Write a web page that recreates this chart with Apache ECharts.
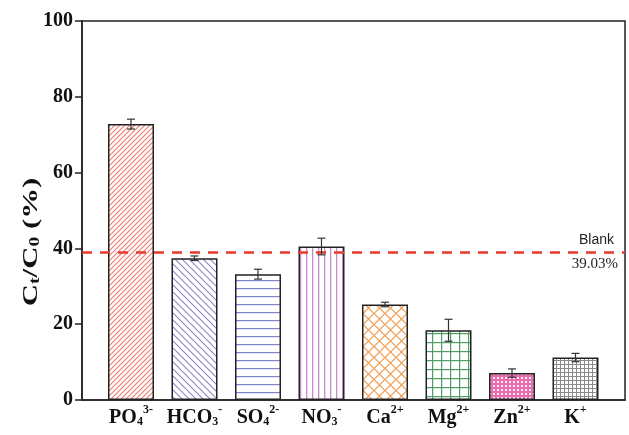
<!DOCTYPE html>
<html>
<head>
<meta charset="utf-8">
<script src="https://cdn.jsdelivr.net/npm/echarts@6/dist/echarts.min.js"></script>
<style>
  html, body { margin: 0; padding: 0; background: #fff; }
  #chart { width: 629px; height: 435px; }
</style>
</head>
<body>
<div id="chart"></div>
<script>
// Ion species tested, with the rich-text label for each one
const categories = ['PO4', 'HCO3', 'SO4', 'NO3', 'Ca', 'Mg', 'Zn', 'K'];
const categoryLabels = [
  '{b|PO}{sub|4}{sup|3-}',
  '{b|HCO}{sub|3}{sup|-}',
  '{b|SO}{sub|4}{sup|2-}',
  '{b|NO}{sub|3}{sup|-}',
  '{b|Ca}{sup|2+}',
  '{b|Mg}{sup|2+}',
  '{b|Zn}{sup|2+}',
  '{b|K}{sup|+}'
];
// Ct/C0 (%) per ion and its error
const ratioValues = [72.8, 37.4, 33.2, 40.5, 25.2, 18.4, 7.1, 11.2];
const ratioErrors = [1.3, 0.6, 1.3, 2.2, 0.6, 2.9, 1.1, 1.1];
// Blank reference level
const blankValue = 39.03;
// Y-axis ticks
const yTicks = [0, 20, 40, 60, 80, 100];

// ---- hatch fills ----
function tile(size, draw) {
  const c = document.createElement('canvas');
  c.width = size; c.height = size;
  const g = c.getContext('2d');
  g.fillStyle = '#fff';
  g.fillRect(0, 0, size, size);
  draw(g, size);
  return { image: c, repeat: 'repeat' };
}
function diag(color, size, forward, lw) {
  return tile(size, (g, s) => {
    g.strokeStyle = color; g.lineWidth = lw;
    g.beginPath();
    if (forward) {
      g.moveTo(-1, s + 1); g.lineTo(s + 1, -1);
      g.moveTo(-1, 1); g.lineTo(1, -1);
      g.moveTo(s - 1, s + 1); g.lineTo(s + 1, s - 1);
    } else {
      g.moveTo(-1, -1); g.lineTo(s + 1, s + 1);
      g.moveTo(s - 1, -1); g.lineTo(s + 1, 1);
      g.moveTo(-1, s - 1); g.lineTo(1, s + 1);
    }
    g.stroke();
  });
}
const fills = [
  diag('#ee7a6e', 5, true, 1.1),
  diag('#8f86c9', 7, false, 1.1),
  tile(8, (g, s) => { g.fillStyle = '#7d84cc'; g.fillRect(0, 0, s, 1.2); }),
  tile(6, (g, s) => { g.fillStyle = '#c98bd0'; g.fillRect(0, 0, 1.3, s); }),
  tile(11, (g, s) => {
    g.strokeStyle = '#f2a057'; g.lineWidth = 1.2;
    g.beginPath();
    g.moveTo(0, s / 2); g.lineTo(s / 2, 0); g.lineTo(s, s / 2); g.lineTo(s / 2, s); g.closePath();
    g.stroke();
  }),
  tile(9, (g, s) => { g.fillStyle = '#4f9d60'; g.fillRect(0, 0, s, 1.2); g.fillRect(0, 0, 1.2, s); }),
  tile(4, (g, s) => {
    g.fillStyle = '#ea6cae'; g.fillRect(0, 0, s, s);
    g.fillStyle = '#fdf0f6'; g.fillRect(1, 1, 2, 2);
  }),
  tile(4, (g, s) => { g.fillStyle = '#8a8a8a'; g.fillRect(0, 0, s, 1); g.fillRect(0, 0, 1, s); })
];

const serifBold = { fontFamily: 'Liberation Serif', fontWeight: 'bold', color: '#111' };

const chart = echarts.init(document.getElementById('chart'));
chart.setOption({
  animation: false,
  backgroundColor: '#fff',
  grid: [
    // frame with the value axis
    { left: 82, right: 4, top: 21, bottom: 35, show: true, borderColor: '#222', borderWidth: 1.5, backgroundColor: 'transparent' },
    // bars
    { left: 99.25, right: 21.75, top: 21, bottom: 35 }
  ],
  xAxis: [
    { gridIndex: 0, type: 'value', min: 0, max: 1, axisLine: { show: true, lineStyle: { color: '#222', width: 1.5 } },
      axisTick: { show: false }, axisLabel: { show: false }, splitLine: { show: false } },
    { gridIndex: 1, type: 'category', data: categories,
      axisLine: { show: false }, axisTick: { show: false },
      axisLabel: {
        interval: 0,
        margin: 4,
        formatter: (v, i) => categoryLabels[i],
        rich: {
          b: Object.assign({ fontSize: 20, lineHeight: 24, verticalAlign: 'bottom' }, serifBold),
          sub: Object.assign({ fontSize: 12, lineHeight: 12, verticalAlign: 'bottom', padding: [10, 0, 0, 0] }, serifBold),
          sup: Object.assign({ fontSize: 12, lineHeight: 12, verticalAlign: 'top', padding: [0, 0, 6, 0] }, serifBold)
        }
      } }
  ],
  yAxis: [
    { gridIndex: 0, type: 'value', min: yTicks[0], max: yTicks[yTicks.length - 1], interval: 20,
      axisLine: { show: true, lineStyle: { color: '#222', width: 1.5 } },
      axisTick: { show: true, inside: false, length: 7, lineStyle: { color: '#222', width: 1.5 } },
      axisLabel: Object.assign({ fontSize: 20, margin: 9 }, serifBold),
      splitLine: { show: false } },
    { gridIndex: 1, type: 'value', min: 0, max: 100, show: false }
  ],
  graphic: [{
    // y-axis title, widened along its reading direction
    type: 'text', x: 29, y: 242, rotation: Math.PI / 2, scaleX: 1.4, scaleY: 1,
    style: {
      text: '{b|C}{sub|t}{b|/C}{sub|0}{b| (%)}',
      align: 'center', verticalAlign: 'middle',
      rich: {
        b: Object.assign({ fontSize: 22, lineHeight: 26, verticalAlign: 'bottom' }, serifBold, { fill: '#111' }),
        sub: Object.assign({ fontSize: 14, lineHeight: 14, verticalAlign: 'bottom', padding: [9, 0, 0, 0] }, serifBold, { fill: '#111' })
      }
    }
  }],
  series: [
    {
      type: 'line', xAxisIndex: 0, yAxisIndex: 0, data: [], symbol: 'none',
      markLine: {
        silent: true, symbol: 'none',
        lineStyle: { color: '#e8392e', width: 2.5, type: [10, 8] },
        data: [
          { yAxis: blankValue,
            label: { show: true, position: 'insideEnd', distance: [7, 0],
                     formatter: '{a|Blank}\n{c|' + blankValue.toFixed(2) + '%}',
                     rich: {
                       a: { fontFamily: 'Liberation Sans', fontSize: 14, color: '#222', lineHeight: 24, padding: [0, 4, 0, 0], align: 'right' },
                       c: { fontFamily: 'Liberation Serif', fontSize: 15, color: '#222', lineHeight: 24, align: 'right' }
                     } } }
        ]
      }
    },
    {
      type: 'bar', xAxisIndex: 1, yAxisIndex: 1, barWidth: 46,
      data: ratioValues.map((v, i) => ({ value: v, itemStyle: { color: fills[i] } })),
      itemStyle: { borderColor: '#222', borderWidth: 1.5 }
    },
    {
      type: 'custom', xAxisIndex: 1, yAxisIndex: 1, z: 5,
      data: ratioValues.map((v, i) => [i, v - ratioErrors[i], v + ratioErrors[i]]),
      renderItem: (params, api) => {
        const lo = api.coord([api.value(0), api.value(1)]);
        const hi = api.coord([api.value(0), api.value(2)]);
        const w = 4;
        const st = { stroke: '#333', lineWidth: 1.2 };
        return {
          type: 'group',
          children: [
            { type: 'line', shape: { x1: lo[0], y1: lo[1], x2: hi[0], y2: hi[1] }, style: st },
            { type: 'line', shape: { x1: lo[0] - w, y1: lo[1], x2: lo[0] + w, y2: lo[1] }, style: st },
            { type: 'line', shape: { x1: hi[0] - w, y1: hi[1], x2: hi[0] + w, y2: hi[1] }, style: st }
          ]
        };
      }
    }
  ]
});
</script>
</body>
</html>
